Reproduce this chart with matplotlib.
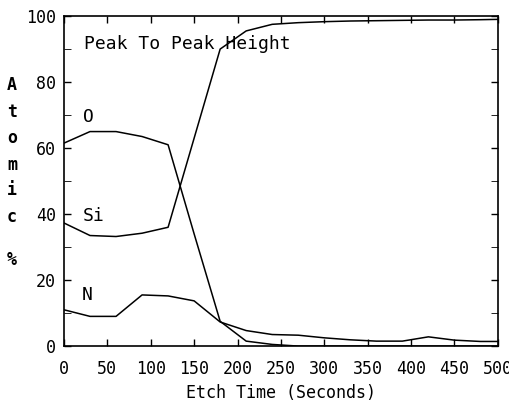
import matplotlib
matplotlib.use("Agg")
import matplotlib.pyplot as plt

# Etch time (s) and atomic %
t = [0, 30, 60, 90, 120, 150, 180, 210, 240, 270, 300, 330, 360, 390, 420, 450, 480, 500]
oxygen = [61.5, 65, 65, 63.5, 61, 34, 7.5, 1.5, 0.5, 0, 0, 0, 0, 0, 0, 0, 0, 0]
silicon = [37.3, 33.5, 33.2, 34.2, 36, 63, 90, 95.5, 97.5, 98, 98.3, 98.5, 98.6, 98.7, 98.8, 98.8, 98.9, 99]
nitrogen = [11, 9, 9, 15.5, 15.2, 13.7, 7.3, 4.7, 3.5, 3.3, 2.5, 1.9, 1.5, 1.5, 2.8, 1.8, 1.4, 1.4]

xticks = [0, 50, 100, 150, 200, 250, 300, 350, 400, 450, 500]
yticks = [0, 20, 40, 60, 80, 100]

plt.rcParams["font.family"] = ["DejaVu Sans Mono"]
plt.rcParams["font.size"] = 12

fig = plt.figure(figsize=(5.09, 4.12), dpi=100)
ax = fig.add_axes([0.1257, 0.160, 0.8523, 0.801])

for y in (oxygen, silicon, nitrogen):
    ax.plot(t, y, color="black", lw=1.1)

ax.set_xlim(0, 500)
ax.set_ylim(0, 100)
ax.set_xticks(xticks)
ax.set_yticks(yticks)
ax.set_yticks(range(0, 101, 10), minor=True)
ax.tick_params(axis="both", direction="in", length=5, width=1, pad=10, top=True, right=True)
ax.tick_params(axis="y", which="both", direction="in", length=5, pad=6, right=True)
ax.tick_params(axis="y", which="major", labelright=False)
for s in ax.spines.values():
    s.set_linewidth(1.2)

ax.set_xlabel("Etch Time (Seconds)", labelpad=4)

ax.text(23, 91.5, "Peak To Peak Height", fontsize=13, va="center")
ax.text(22, 69.5, "O", fontsize=13, va="center")
ax.text(22, 39.5, "Si", fontsize=13, va="center")
ax.text(21, 15.5, "N", fontsize=13, va="center")

# vertical stacked y label
for ch, ypx in zip("Atomic%", [85, 112, 138, 165, 190, 217, 260]):
    fig.text(12 / 509, 1 - ypx / 412, ch, ha="center", va="center", fontsize=12, fontweight="bold")

fig.savefig("out.png", dpi=100)
